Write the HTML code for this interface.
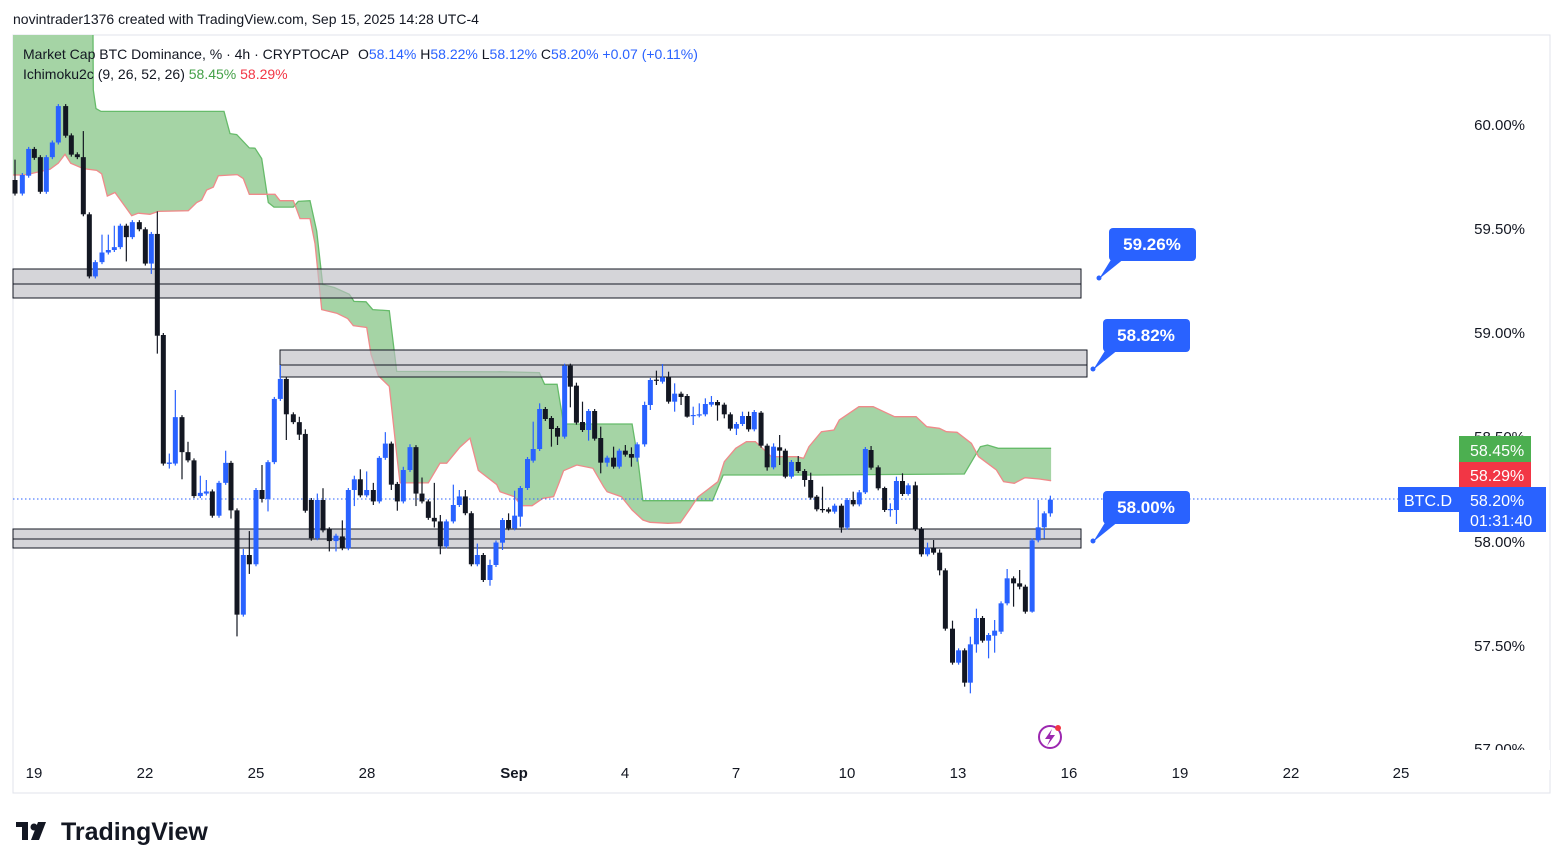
<!DOCTYPE html>
<html><head><meta charset="utf-8"><style>
body{margin:0;background:#fff;width:1563px;height:868px;overflow:hidden;font-family:"Liberation Sans",sans-serif;}
svg{position:absolute;left:0;top:0}
</style></head><body>
<svg id="s" width="1563" height="868" viewBox="0 0 1563 868" xmlns="http://www.w3.org/2000/svg" font-family="Liberation Sans, sans-serif">
<rect x="13" y="35" width="1537" height="758" fill="#fff" stroke="#e0e3eb"/>
<g id="cloud"></g>
<g id="bands"></g>
<line x1="13" y1="499" x2="1398" y2="499" stroke="#2962ff" stroke-dasharray="1.5,2.5" stroke-width="1"/>
<g id="candles"></g>
<text x="13" y="24" font-size="14" fill="#131722">novintrader1376 created with TradingView.com, Sep 15, 2025 14:28 UTC-4</text>
<text x="23" y="59" font-size="14" fill="#131722">Market Cap BTC Dominance, % · 4h · CRYPTOCAP <tspan x="358">O</tspan><tspan fill="#2962ff">58.14%</tspan> H<tspan fill="#2962ff">58.22%</tspan> L<tspan fill="#2962ff">58.12%</tspan> C<tspan fill="#2962ff">58.20%</tspan> <tspan fill="#2962ff">+0.07 (+0.11%)</tspan></text>
<text x="23" y="79" font-size="14" fill="#131722">Ichimoku2c (9, 26, 52, 26) <tspan fill="#43a047">58.45%</tspan> <tspan fill="#f23645">58.29%</tspan></text>
<g font-size="15" fill="#131722" text-anchor="end">
<text x="1525" y="130">60.00%</text><text x="1525" y="234">59.50%</text><text x="1525" y="338">59.00%</text><text x="1525" y="442">58.50%</text><text x="1525" y="547">58.00%</text><text x="1525" y="651">57.50%</text><text x="1525" y="754">57.00%</text>
</g>
<rect x="1460" y="750" width="90" height="20" fill="#fff"/>
<g font-size="15" fill="#131722" text-anchor="middle">
<text x="34" y="778">19</text><text x="145" y="778">22</text><text x="256" y="778">25</text><text x="367" y="778">28</text><text x="514" y="778" font-weight="bold">Sep</text><text x="625" y="778">4</text><text x="736" y="778">7</text><text x="847" y="778">10</text><text x="958" y="778">13</text><text x="1069" y="778">16</text><text x="1180" y="778">19</text><text x="1291" y="778">22</text><text x="1401" y="778">25</text>
</g>
<g fill="#2962ff">
<rect x="1109" y="228" width="87" height="33" rx="4"/><polygon points="1112,258 1125,258 1099,279"/><circle cx="1099" cy="278" r="2.5"/>
<rect x="1103" y="319" width="87" height="33" rx="4"/><polygon points="1106,349 1119,349 1093,370"/><circle cx="1093" cy="369" r="2.5"/>
<rect x="1103" y="491" width="87" height="33" rx="4"/><polygon points="1106,521 1119,521 1093,542"/><circle cx="1093" cy="541" r="2.5"/>
</g>
<g font-size="17" font-weight="bold" fill="#fff" text-anchor="middle">
<text x="1152" y="250">59.26%</text><text x="1146" y="341">58.82%</text><text x="1146" y="513">58.00%</text>
</g>
<rect x="1459" y="436" width="72" height="26" fill="#4caf50"/>
<rect x="1459" y="462" width="72" height="26" fill="#f23645"/>
<rect x="1459" y="487" width="87" height="45" fill="#2962ff"/>
<rect x="1398" y="487" width="61" height="25" fill="#2962ff"/>
<g font-size="16" fill="#fff">
<text x="1470" y="456">58.45%</text><text x="1470" y="481">58.29%</text><text x="1470" y="506">58.20%</text><text x="1470" y="526">01:31:40</text><text x="1404" y="506">BTC.D</text>
</g>
<circle cx="1050" cy="737" r="11" fill="none" stroke="#9c27b0" stroke-width="2"/>
<path d="M1052,729 L1045,739 L1050,739 L1047,746 L1055,735 L1050,735 Z" fill="#9c27b0"/>
<circle cx="1058" cy="728" r="3" fill="#f23645"/>
<g fill="#131722"><rect x="16" y="822" width="12" height="5"/><rect x="22" y="822" width="6" height="18"/><circle cx="34" cy="827" r="3.5"/><polygon points="38,822 46,822 39,840 31,840"/></g>
<text x="61" y="840" font-size="25" font-weight="bold" fill="#131722">TradingView</text>
</svg>
<script>
var NS="http://www.w3.org/2000/svg";
function el(p,t,a){var e=document.createElementNS(NS,t);for(var k in a)e.setAttribute(k,a[k]);p.appendChild(e);return e;}
function z1(x,y){return [x/3,90+y/2.8];}
function z2(x,y){return [500+x/2.8,350+y/3];}
var g1=[[280,0],[288,52],[303,60],[672,60],[690,122],[710,125],[748,162],[765,163],[785,192],[805,315],[822,328],[880,328],[895,312],[930,310],[950,395],[968,545],[1003,553],[1048,572],[1062,592],[1098,593],[1118,615],[1168,618],[1190,788],[1490,789]];
var g2=[[0,65],[110,68],[125,103],[160,103],[178,222],[370,222],[385,320],[400,452],[595,452],[625,375],[890,375],[1300,372],[1345,290],[1365,285],[1395,295],[1543,295]];
var r1=[[40,238],[70,238],[90,235],[150,222],[175,205],[195,180],[212,205],[250,220],[290,225],[305,235],[322,297],[345,287],[395,352],[415,345],[450,348],[475,340],[565,338],[590,315],[605,308],[620,280],[640,272],[655,240],[712,237],[730,248],[748,292],[825,292],[840,310],[880,310],[890,335],[900,360],[930,360],[945,430],[965,615],[1010,625],[1043,640],[1060,660],[1100,665],[1113,740],[1135,800],[1168,830],[1190,1020],[1200,1100],[1285,1100],[1320,1045],[1340,1045],[1380,1000],[1410,975],[1435,1065],[1490,1105]];
var r2=[[0,425],[40,440],[60,467],[90,467],[120,445],[150,440],[165,400],[178,362],[215,345],[260,355],[290,410],[300,425],[340,440],[370,480],[400,510],[420,517],[470,520],[505,518],[530,480],[555,440],[580,420],[610,395],[628,335],[660,295],[690,275],[715,275],[740,300],[760,320],[830,320],[850,325],[865,290],[900,245],[935,240],[950,210],[1005,170],[1045,170],[1105,200],[1165,200],[1195,230],[1230,235],[1250,245],[1280,247],[1320,280],[1340,320],[1390,360],[1410,395],[1440,400],[1470,383],[1510,387],[1543,392]];
var G=[[13,35],[93,35]].concat(g1.map(p=>z1(p[0],p[1])),g2.map(p=>z2(p[0],p[1])));
var R=[[13,175]].concat(r1.map(p=>z1(p[0],p[1])),r2.map(p=>z2(p[0],p[1])));
var cl=document.getElementById("cloud");
function pts(a){return a.map(p=>p[0].toFixed(1)+","+p[1].toFixed(1)).join(" ");}
el(cl,"polygon",{points:pts(G.concat(R.slice().reverse())),fill:"#a5d4a5","fill-rule":"nonzero"});
el(cl,"polyline",{points:pts(G.slice(1)),fill:"none",stroke:"#66bb6a","stroke-width":1.3});
el(cl,"polyline",{points:pts(R),fill:"none",stroke:"#ef8a8a","stroke-width":1.3});
var b=document.getElementById("bands");
[[13,1081,269,298,284],[280,1087,350,377,365],[13,1081,529,548,539]].forEach(function(d){
el(b,"rect",{x:d[0],y:d[2],width:d[1]-d[0],height:d[3]-d[2],fill:"rgba(190,190,196,0.65)",stroke:"#131722","stroke-width":1});
el(b,"line",{x1:d[0],x2:d[1],y1:d[4],y2:d[4],stroke:"#131722","stroke-width":1});});
var c1=[[45,252,290,'k',195],[67,238,290,'u'],[86,165,240,'u'],[103,165,190,'k'],[121,188,285,'k'],[139,188,285,'u'],[157,147,188,'u'],[175,45,147,'u'],[197,45,128,'k'],[214,127,181,'k'],[232,180,188,'k'],[250,188,348,'k',115],[268,348,522,'k'],[286,482,522,'u'],[306,455,482,'u',405],[325,448,455,'u',405],[343,440,448,'u',380],[361,380,440,'u'],[379,380,412,'k',null,480],[397,370,412,'u'],[418,370,390,'k'],[436,390,486,'k'],[454,403,486,'u',null,515],[472,403,688,'k',340,738],[490,686,1046,'k'],[508,1043,1047,'u',1018,1060],[526,916,1046,'u',840],[546,916,1014,'k',null,1090],[564,1014,1037,'k',985],[582,1037,1137,'k'],[601,1128,1137,'u',1080],[619,1124,1130,'u',1092],[637,1124,1192,'k'],[657,1100,1192,'u'],[677,1044,1100,'u',1010],[693,1044,1177,'k',null,1200],[711,1177,1469,'k',null,1530],[730,1302,1469,'u',1285],[748,1302,1328,'k',1235,1355],[768,1120,1328,'u'],[786,1120,1145,'k',1050,1155],[804,1042,1145,'u',null,1180],[823,865,1042,'u'],[841,809,865,'u',770],[859,809,908,'k',null,980],[880,908,930,'k'],[898,930,965,'k',915,980],[916,963,1178,'k',950],[934,1148,1255,'k',null,1262],[952,1148,1255,'u',1130],[969,1148,1233,'k',1115],[988,1230,1263,'k',null,1292],[1008,1248,1263,'u',null,1292],[1027,1250,1283,'k',1205],[1045,1120,1283,'u'],[1063,1090,1120,'u',1080,1165],[1081,1090,1135,'k',1062],[1100,1120,1135,'u',1068],[1120,1120,1152,'k',1100,1162],[1138,1030,1152,'u',1025],[1156,990,1030,'u',958],[1174,990,1105,'k',null,1120],[1192,1103,1152,'k',null,1178],[1210,1064,1152,'u',1055],[1230,1000,1064,'u',992],[1248,1000,1130,'k',null,1165],[1266,1130,1152,'k',1085],[1285,1152,1198,'k'],[1303,1198,1208,'k',1100,1225],[1321,1208,1278,'k',1190,1300],[1339,1208,1278,'u'],[1360,1162,1208,'u',1105],[1378,1138,1162,'u',1120],[1396,1138,1185,'k',1120],[1414,1185,1328,'k'],[1432,1302,1328,'u',1270],[1450,1302,1372,'k'],[1470,1330,1372,'u',1315,1388],[1488,1267,1330,'u']];
var c2=[[7,510,578,'u',null,600],[24,510,535,'k',490],[41,497,535,'u',422],[57,414,500,'u',null,530],[77,327,414,'u'],[93,297,332,'u',215],[111,177,297,'u',160],[127,177,207,'k'],[144,204,237,'k',null,290],[161,234,260,'k',null,285],[181,47,260,'u'],[197,47,110,'k',null,172],[214,107,218,'k',98],[231,216,240,'k',155],[248,183,240,'u',null,272],[265,183,266,'k'],[282,264,338,'k',230,370],[300,323,338,'u',null,350],[318,323,350,'k',290],[334,302,350,'u'],[351,302,314,'k',285],[368,312,323,'k',292,350],[384,283,323,'u',null,335],[405,165,283,'u',155,290],[421,90,165,'u',null,180],[438,89,92,'k',62,105],[455,82,95,'u',42],[472,82,155,'k',65],[489,131,155,'u',100,185],[507,131,141,'k',null,165],[524,138,200,'k',null,203],[541,195,198,'u',170,225],[558,193,196,'u',160],[575,162,193,'u',145],[592,156,164,'u',138],[609,156,166,'k',null,212],[628,164,193,'k',null,205],[645,193,236,'k'],[662,222,236,'u',null,255],[679,198,222,'u',185],[696,198,238,'k',185,245],[712,186,238,'u',180],[731,188,287,'k',183],[748,287,352,'k',null,362],[766,290,352,'u',280],[783,292,302,'k',255,345],[799,302,380,'k',null,385],[816,336,380,'u'],[835,336,363,'k',318],[853,363,390,'k',null,410],[870,390,443,'k',368],[887,440,478,'k',435],[903,477,479,'k',410,488],[920,478,485,'k',null,490],[937,467,485,'u'],[956,467,533,'k',null,548],[972,450,533,'u'],[989,450,463,'k',425],[1006,427,463,'u',420],[1023,297,427,'u',null,432],[1039,300,353,'k',288],[1059,352,415,'k'],[1077,414,480,'k',410],[1093,477,480,'u',460,500],[1110,393,480,'u',380,522],[1127,393,432,'k',370],[1143,406,432,'u',null,437],[1163,406,537,'k',395],[1180,537,613,'k',null,620],[1197,593,613,'u',578],[1214,593,608,'k',570],[1231,608,661,'k',598,676],[1247,661,836,'k',null,842],[1267,836,938,'k',812],[1284,901,938,'u'],[1301,901,998,'k',null,1010],[1317,883,998,'u',860,1030],[1334,804,883,'u',776,908],[1351,804,872,'k'],[1368,855,872,'u',null,925],[1385,842,857,'u',810,908],[1403,760,845,'u',null,852],[1420,685,760,'u',657],[1438,685,700,'k',null,770],[1455,700,710,'k',660,718],[1471,710,785,'k'],[1490,571,785,'u',null,788],[1507,532,571,'u',450],[1524,490,532,'u',null,565],[1541,449,490,'u',437,500]];
var cg=document.getElementById("candles");
function draw(c,f){var col=c[3]=='k'?'#131722':'#2962ff';var a=f(c[0],c[1]),bb=f(c[0],c[2]);
var wt=c[4]!=null?f(c[0],c[4])[1]:a[1]-2,wb=c[5]!=null?f(c[0],c[5])[1]:bb[1]+2;
el(cg,"line",{x1:a[0],x2:a[0],y1:wt,y2:wb,stroke:col,"stroke-width":1.2});
el(cg,"rect",{x:a[0]-2.5,y:a[1],width:5,height:Math.max(1.2,bb[1]-a[1]),fill:col});}
c1.forEach(c=>draw(c,z1));c2.forEach(c=>draw(c,z2));
</script>
</body></html>
